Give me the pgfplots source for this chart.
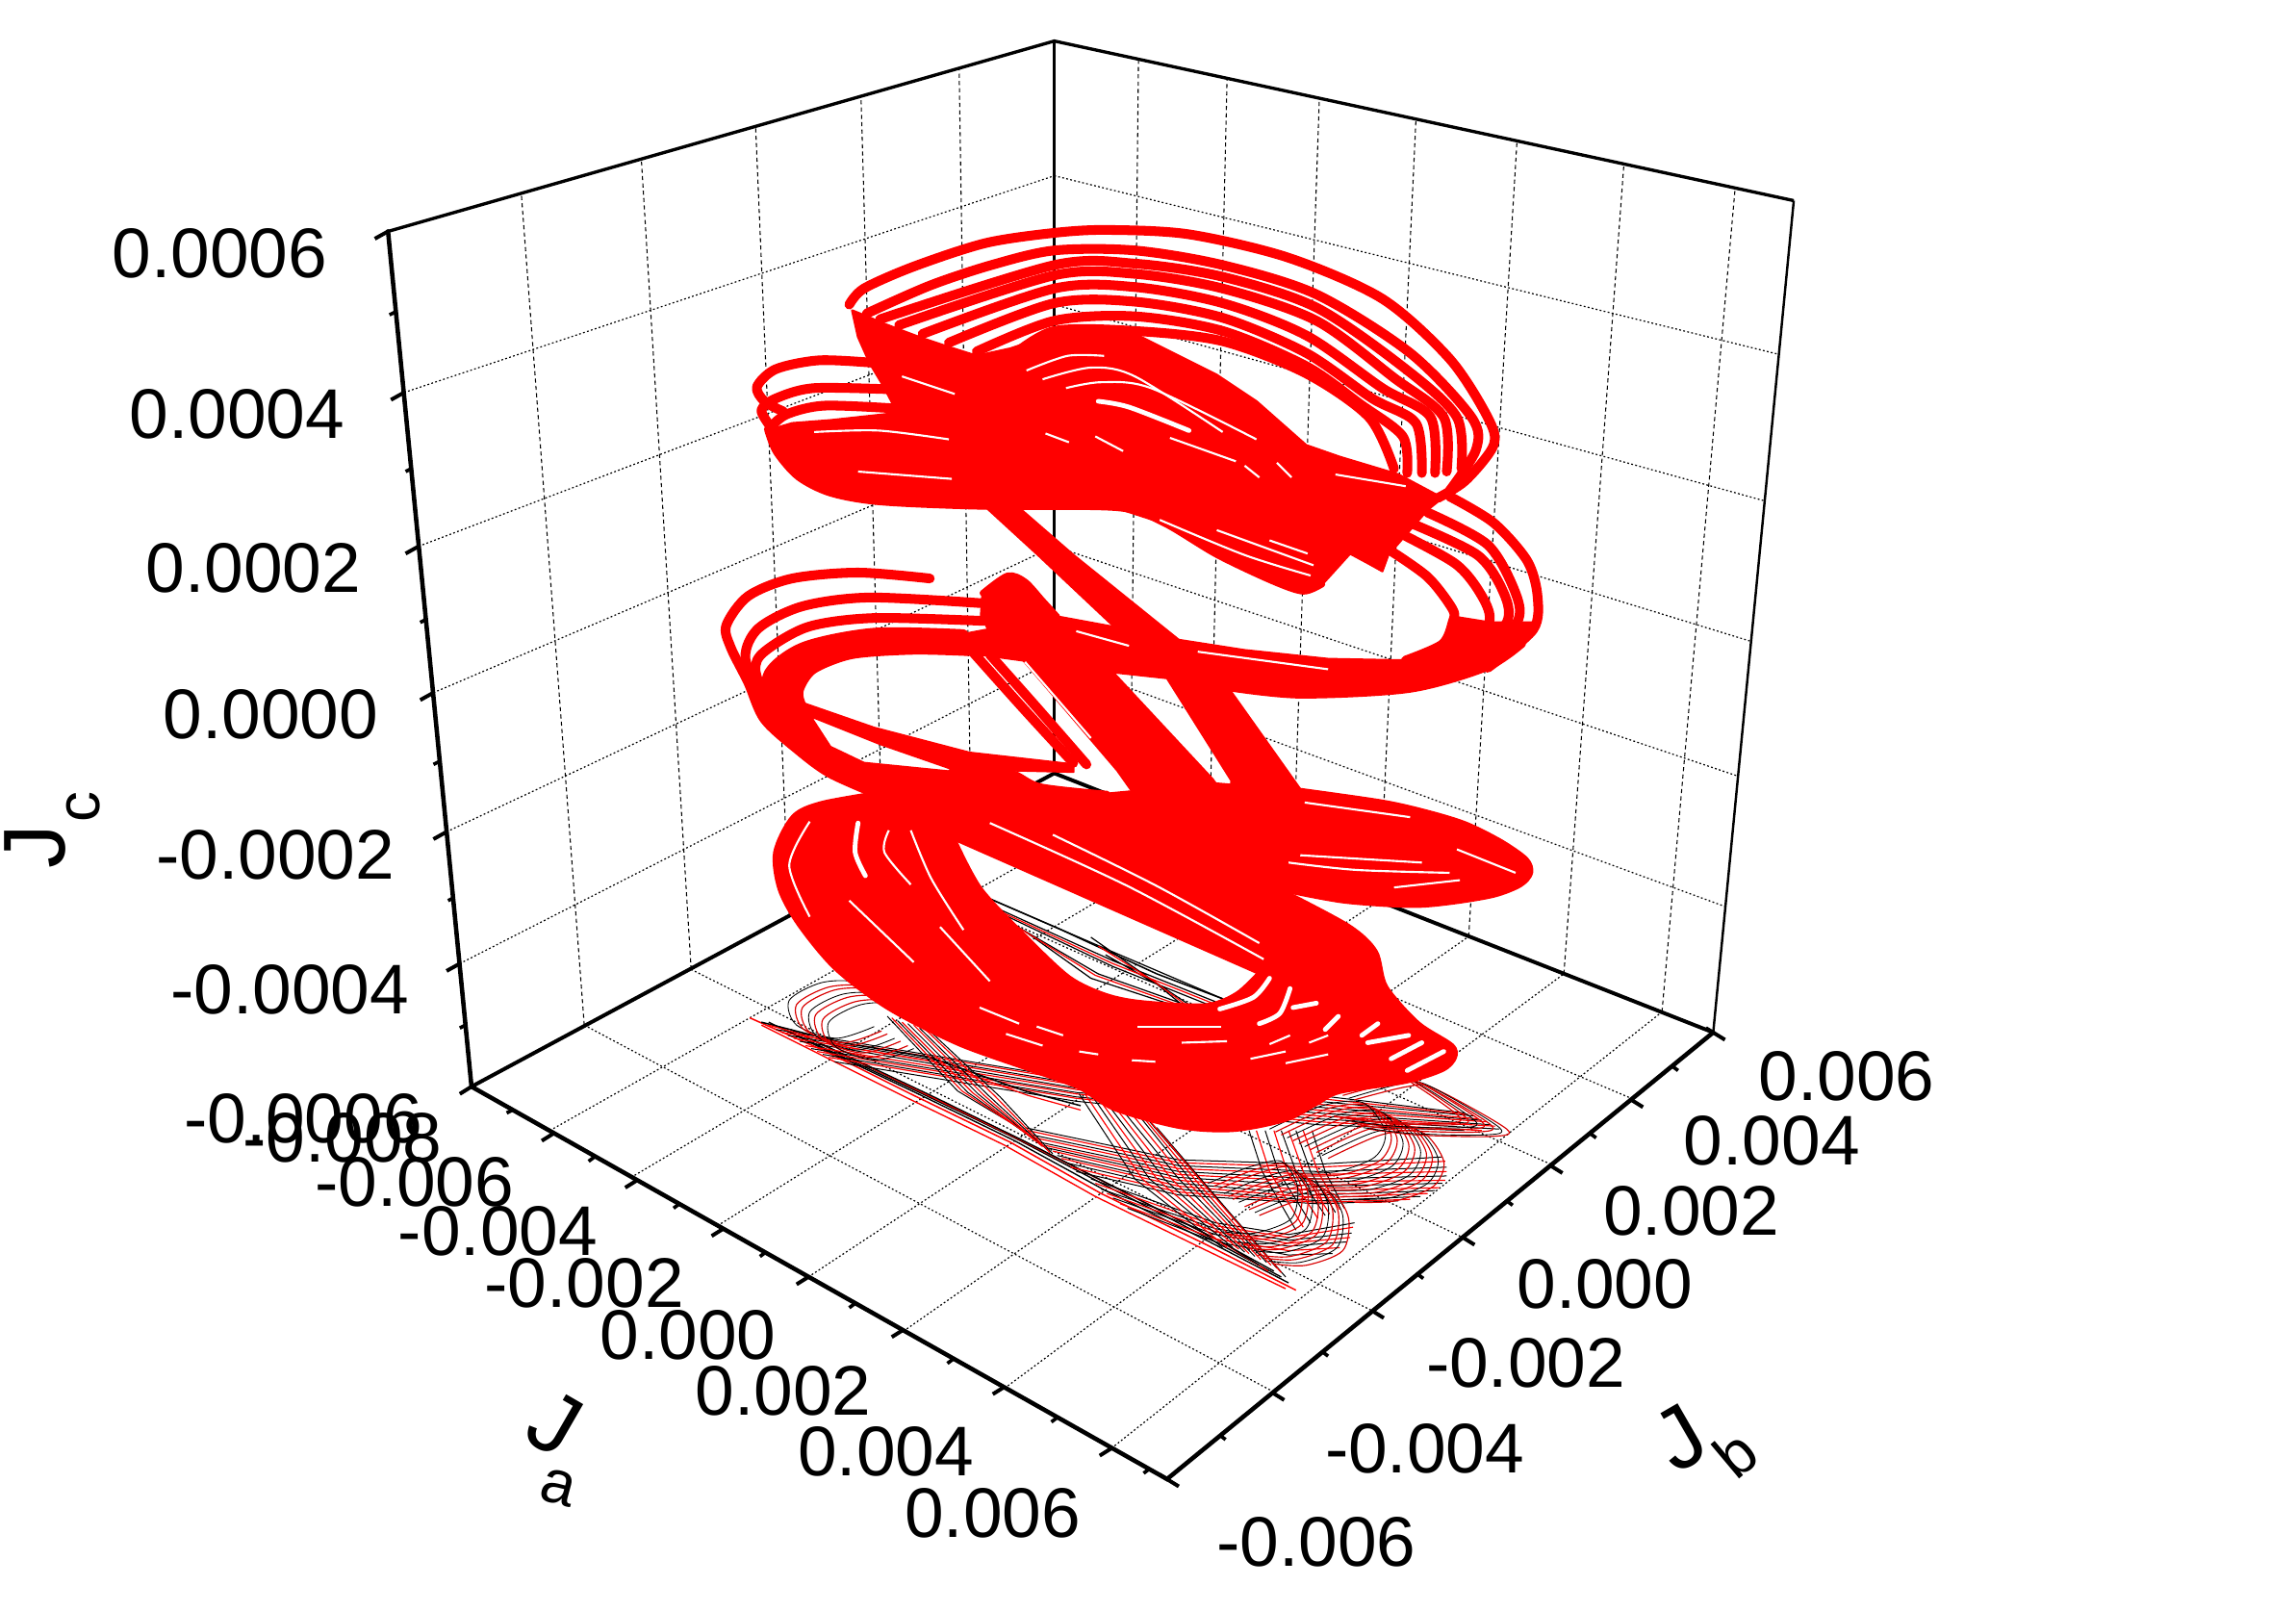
\documentclass[border=0pt]{standalone}
\usepackage{pgfplots}
\usepackage{fontspec}
\setmainfont{Liberation Sans}
\pgfplotsset{compat=1.18}
\newcommand{\lab}{\fontsize{24}{24}\selectfont}
\newcommand{\jj}{\fontsize{30}{30}\selectfont J}
\newcommand{\sub}{\fontsize{21}{21}\selectfont}
\pgfplotsset{
  griddash/.style={black,line width=.35pt,dash pattern=on 1.4pt off 1.1pt},
  griddot/.style={black,line width=.4pt,dash pattern=on .6pt off .8pt},
  fblack/.style={black,line width=.33pt},
  fred/.style={red,line width=.38pt},
  fredring/.style={red!85!black,line width=.38pt,smooth},
  fblackring/.style={black,line width=.28pt,smooth},
  strand/.style={red,line width=3.3pt,smooth,line cap=round,line join=round},
  edge/.style={red,line width=2pt,smooth,line cap=round,line join=round},
  mass/.style={draw=red,fill=red,line width=.8pt,line join=round},
  slit/.style={white,line width=.7pt,smooth},
  wide slit/.style={white,line width=1.6pt,smooth,line cap=round},
}
\begin{document}
\begin{tikzpicture}
\path[use as bounding box] (0,0) rectangle (784pt,550pt);
\begin{axis}[at={(0,0)},anchor=south west,scale only axis,width=784pt,height=550pt,
  xmin=0,xmax=1568,ymin=0,ymax=1100,y dir=reverse,hide axis,clip=false,unbounded coords=jump]

% floor grid
\addplot[griddot] coordinates {(375.5,772)(772,548.5) (nan,nan) (431,804)(826,570) (nan,nan) (490,837)(883,592) (nan,nan) (552,872)(942,615) (nan,nan) (617,909)(1003,639.5) (nan,nan) (686,948)(1068,665) (nan,nan) (759,989)(1135,691)};
\addplot[griddot] coordinates {(399,700)(869,950) (nan,nan) (472,662)(937,895) (nan,nan) (539,625)(999,845) (nan,nan) (603,591)(1059,795) (nan,nan) (663,558)(1114,750)};
% right wall
\addplot[griddash] coordinates {(772,548.5)(777.5,40) (nan,nan) (826,570)(838,53) (nan,nan) (883,592)(901,67) (nan,nan) (942,615)(967,81) (nan,nan) (1003,639.5)(1036,96) (nan,nan) (1068,665)(1109,112) (nan,nan) (1135,691)(1185,128)};
\addplot[griddot] coordinates {(720,120)(1215,242) (nan,nan) (720,208)(1205,342) (nan,nan) (720,292)(1196,438) (nan,nan) (720,373)(1187,530) (nan,nan) (720,451)(1178,619)};
% left wall
\addplot[griddash] coordinates {(399,700)(356,132) (nan,nan) (472,662)(438,109) (nan,nan) (539,625)(516,86) (nan,nan) (603,591)(588,66) (nan,nan) (663,558)(655,47)};
\addplot[griddot] coordinates {(276,268)(720,120) (nan,nan) (286,373)(720,208) (nan,nan) (296,473)(720,292) (nan,nan) (305,568)(720,373) (nan,nan) (314,658)(720,451)};

% box, back edges
\addplot[black,line width=1.3pt] coordinates {(322,742)(720,528)(1170,705)};
\addplot[black,line width=.8pt] coordinates {(720,528)(720,28)};
\addplot[black,line width=.8pt] coordinates {(1170,705)(1225,137)};
\addplot[black,line width=1.1pt] coordinates {(265,158)(720,28)(1225,137)};

% projection on the floor: long lower edge
\addplot[fred,line width=.5pt] coordinates {(512,695)(564,718)(622,747)(690,780)(752,815)(824,850)(885,881)};
\addplot[fblack,line width=.45pt] coordinates {(525,698)(570,720)(625,746)(693,779)(755,813)(826,848)(880,876)};
\addplot[fblack,line width=.45pt] coordinates {(540,703)(575,720)(630,746)(697,778)(760,810)(830,846)(870,868)};
\addplot[fred,line width=.45pt] coordinates {(520,700)(560,720)(618,749)(686,782)(748,817)(820,852)(878,880)};
\addplot[fblack,line width=.45pt] coordinates {(532,701)(572,720)(628,746)(695,778)(758,811)(828,847)(875,872)};
\addplot[fred,line width=.4pt] coordinates {(548,707)(580,722)(634,748)(700,780)(764,812)(834,848)(866,868)};
\addplot[fblack,line width=.4pt] coordinates {(555,710)(585,724)(640,750)(705,782)(770,815)(838,850)(860,864)};
% horizontal families
\addplot[fblack] coordinates {(530,703)(735,737)(900,748)(1000,760) (nan,nan) (538,707)(735,740)(900,752)(1006,762) (nan,nan) (546,711)(735,743)(900,756)(1012,765) (nan,nan) (554,716)(735,746)(900,760)(1018,768) (nan,nan) (562,720)(735,749)(900,764)(1024,771) (nan,nan) (570,725)(735,752)(900,768)(1000,772)};
\addplot[fred] coordinates {(534,705)(735,738)(900,750)(1003,761) (nan,nan) (542,709)(735,741)(900,754)(1009,764) (nan,nan) (550,714)(735,744)(900,758)(1015,766) (nan,nan) (558,718)(735,747)(900,762)(1021,769) (nan,nan) (566,722)(735,750)(900,766)(1012,772)};
\addplot[fblack] coordinates {(700,770)(805,792)(900,795)(985,790) (nan,nan) (705,775)(805,796)(900,800)(988,797) (nan,nan) (710,780)(805,800)(900,805)(988,803) (nan,nan) (716,784)(805,804)(900,810)(985,808) (nan,nan) (722,789)(805,808)(900,816)(980,813) (nan,nan) (728,794)(805,812)(900,820)(970,817) (nan,nan) (735,800)(805,816)(900,822)(955,820)};
\addplot[fred] coordinates {(702,772)(805,794)(900,797)(987,793) (nan,nan) (707,777)(805,798)(900,802)(988,800) (nan,nan) (713,782)(805,802)(900,807)(987,806) (nan,nan) (719,786)(805,806)(900,813)(983,811) (nan,nan) (725,791)(805,810)(900,818)(975,815) (nan,nan) (731,797)(805,814)(900,821)(963,819)};
\addplot[fblack] coordinates {(745,805)(830,835)(880,843)(925,835) (nan,nan) (752,812)(830,839)(880,847)(923,842) (nan,nan) (760,818)(830,843)(880,851)(920,848) (nan,nan) (770,825)(830,848)(880,857)(910,856)};
\addplot[fred] coordinates {(748,808)(830,837)(880,845)(924,838) (nan,nan) (756,815)(830,841)(880,849)(922,845) (nan,nan) (765,822)(830,846)(880,854)(915,852)};
% upper dense band under the coil
\addplot[fblack,line width=.5pt] coordinates {(672,612)(725,635)(790,665)(835,682)};
\addplot[fblack,line width=.5pt] coordinates {(520,698)(575,712)(635,722)(700,745)(738,755)};
\addplot[fred,line width=.4pt] coordinates {(525,700)(578,715)(638,725)(702,748)(738,758)};
% diagonal families
\addplot[fblack] coordinates {(606,694)(654,745)(701,773) (nan,nan) (613,697)(661,746)(705,777) (nan,nan) (620,699)(668,747)(710,781) (nan,nan) (628,702)(675,748)(715,785) (nan,nan) (636,705)(683,749)(719,788)};
\addplot[fred] coordinates {(609,695)(657,745)(703,775) (nan,nan) (616,698)(664,746)(707,779) (nan,nan) (624,700)(671,747)(712,783) (nan,nan) (632,703)(679,748)(717,787)};
\addplot[fblack] coordinates {(737,747)(775,805)(835,852) (nan,nan) (745,747)(785,805)(842,852) (nan,nan) (752,748)(795,805)(850,855) (nan,nan) (760,750)(805,805)(857,858) (nan,nan) (770,752)(815,808)(865,862) (nan,nan) (780,760)(825,812)(872,866) (nan,nan) (790,770)(838,826)(878,872)};
\addplot[fred] coordinates {(741,747)(780,805)(838,852) (nan,nan) (748,747)(790,805)(846,853) (nan,nan) (756,749)(800,805)(853,856) (nan,nan) (765,751)(810,806)(861,860) (nan,nan) (775,756)(820,810)(868,864) (nan,nan) (785,765)(831,819)(875,869)};
\addplot[fblack] coordinates {(853,772)(862,800)(885,840) (nan,nan) (864,772)(873,800)(895,835) (nan,nan) (875,772)(885,800)(905,830) (nan,nan) (885,772)(895,800)(912,828) (nan,nan) (896,772)(905,800)(918,825)};
\addplot[fred] coordinates {(858,772)(867,800)(890,838) (nan,nan) (870,772)(879,800)(900,832) (nan,nan) (880,772)(890,800)(908,829) (nan,nan) (890,772)(900,800)(915,826)};
% strands seen through the hole of the lower coil
\addplot[fblack,line width=.4pt] coordinates {(672,612)(760,650)(835,682) (nan,nan) (680,622)(760,660)(825,686) (nan,nan) (700,636)(745,668)(806,688) (nan,nan) (745,640)(785,668)(818,690) (nan,nan) (676,618)(760,656)(830,684) (nan,nan) (690,630)(750,665)(815,688) (nan,nan) (755,652)(790,672)(812,690)};
\addplot[fred,line width=.4pt] coordinates {(678,620)(760,658)(828,685) (nan,nan) (695,633)(748,666)(810,688) (nan,nan) (750,646)(788,670)(815,690)};
% rings, lobe 4
\addplot[fredring] coordinates {(860,830)(888,819)(910,815)(921,832)(917,854)(892,864)(870,863)};
\addplot[fblackring] coordinates {(857,828)(884,817)(906,813)(917,830)(913,852)(888,862)(866,861)};
\addplot[fredring] coordinates {(853,826)(881,815)(903,811)(914,828)(910,850)(885,860)(863,859)};
\addplot[fredring] coordinates {(850,824)(877,813)(899,809)(910,826)(906,848)(881,858)(859,857)};
\addplot[fblackring] coordinates {(846,821)(874,810)(896,806)(907,823)(903,845)(878,855)(856,854)};
\addplot[fredring] coordinates {(842,819)(870,808)(892,804)(903,821)(899,843)(874,853)(852,852)};
\addplot[fredring] coordinates {(839,817)(867,806)(889,802)(900,819)(896,841)(871,851)(849,850)};
\addplot[fblackring] coordinates {(836,815)(863,804)(885,800)(896,817)(892,839)(867,849)(845,848)};
\addplot[fredring] coordinates {(832,812)(860,801)(882,797)(893,814)(889,836)(864,846)(842,845)};
\addplot[fredring] coordinates {(829,810)(856,799)(878,795)(889,812)(885,834)(860,844)(838,843)};
\addplot[fblackring] coordinates {(825,808)(853,797)(875,793)(886,810)(882,832)(857,842)(835,841)};
% rings, lobe 3
\addplot[fredring] coordinates {(907,791)(943,775)(971,773)(986,793)(979,810)(953,820)(925,821)};
\addplot[fblackring] coordinates {(903,789)(939,773)(967,771)(982,791)(975,808)(949,818)(921,819)};
\addplot[fredring] coordinates {(899,787)(935,771)(963,769)(978,789)(971,806)(945,816)(917,817)};
\addplot[fredring] coordinates {(895,785)(931,769)(959,767)(974,787)(967,804)(941,814)(913,815)};
\addplot[fblackring] coordinates {(891,783)(927,767)(955,765)(970,785)(963,802)(937,812)(909,813)};
\addplot[fredring] coordinates {(887,781)(923,765)(951,763)(966,783)(959,800)(933,810)(905,811)};
\addplot[fredring] coordinates {(883,779)(919,763)(947,761)(962,781)(955,798)(929,808)(901,809)};
\addplot[fblackring] coordinates {(879,777)(915,761)(943,759)(958,779)(951,796)(925,806)(897,807)};
\addplot[fredring] coordinates {(875,775)(911,759)(939,757)(954,777)(947,794)(921,804)(893,805)};
\addplot[fredring] coordinates {(871,773)(907,757)(935,755)(950,775)(943,792)(917,802)(889,803)};
\addplot[fblackring] coordinates {(867,771)(903,755)(931,753)(946,773)(939,790)(913,800)(885,801)};
% rings, lobe 2
\addplot[fredring] coordinates {(925,751)(961,742)(979,743)(1029,771)(1018,776)(968,775)(935,771)};
\addplot[fblackring] coordinates {(921,750)(957,740)(975,741)(1024,770)(1013,775)(964,774)(931,770)};
\addplot[fredring] coordinates {(917,748)(953,739)(971,740)(1018,768)(1008,773)(960,772)(927,768)};
\addplot[fredring] coordinates {(913,746)(949,737)(967,738)(1012,766)(1003,771)(956,770)(923,766)};
\addplot[fblackring] coordinates {(909,745)(945,736)(963,737)(1007,765)(998,770)(952,769)(919,765)};
\addplot[fredring] coordinates {(905,743)(941,734)(959,735)(1001,763)(993,768)(948,767)(915,763)};
\addplot[fredring] coordinates {(901,742)(937,733)(955,734)(996,762)(988,767)(944,766)(911,762)};
% rings, lobe 1
\addplot[fblackring] coordinates {(607,686)(586,671)(561,671)(539,683)(544,700)(571,709)(597,701)};
\addplot[fredring] coordinates {(612,689)(591,674)(566,674)(544,686)(549,703)(576,712)(602,704)};
\addplot[fredring] coordinates {(616,691)(595,676)(570,676)(548,688)(553,705)(580,714)(606,706)};
\addplot[fblackring] coordinates {(621,694)(600,679)(575,679)(553,691)(558,708)(585,717)(611,709)};
\addplot[fredring] coordinates {(625,696)(604,681)(579,681)(557,693)(562,710)(589,719)(615,711)};
\addplot[fredring] coordinates {(630,699)(609,684)(584,684)(562,696)(567,713)(594,722)(620,714)};
\addplot[fblackring] coordinates {(634,701)(613,686)(588,686)(566,698)(571,715)(598,724)(624,716)};

% attractor: solid parts
\addplot[mass] coordinates {(582,212)(592,216)(601,220)(614,225)(630,231)(648,237)(667,243)(690,238)(720,228)(775,228)(831,256)(858,274)(892,304)(915,312)(955,324)(985,340)(975,348)(948,379)(944,390)(935,385)(922,378)(903,399)(890,404)(869,397)(831,379)(794,357)(763,347)(669,346)(601,343)(567,337)(545,326)(530,309)(524,294)(541,289)(567,287)(613,282)(603,263)(594,248)(586,230)} --cycle;
\addplot[mass] coordinates {(673,346)(695,346)(733,379)(805,437)(839,470)(888,539)(895,560)(840,555)(841,533)(797,463)(760,427)(709,379)} --cycle;
\addplot[mass] coordinates {(688,393)(700,397)(712,410)(722,421)(735,440)(760,459)(828,532)(845,555)(780,550)(763,526)(699,451)(680,440)(670,420)(671,405)} --cycle;
\addplot[mass] coordinates {(524,462)(548,442)(597,432)(658,433)(722,421)(760,428)(805,437)(850,444)(907,450)(960,451)(978,447)(992,434)(992,421)(1017,425)(1048,425)(1040,440)(1016,456)(963,471)(888,475)(839,470)(797,463)(760,459)(699,451)(662,446)(624,445)(582,448)(556,458)(547,471)(548,480)(554,490)(567,510)(590,521)(650,527)(650,545)(601,543)(567,528)(545,512)(522,491)(511,466)} --cycle;
\addplot[mass] coordinates {(548,480)(597,497)(662,514)(733,522)(733,527)(650,525)(601,508)(556,490)} --cycle;
\addplot[mass] coordinates {(601,543)(650,526)(665,522)(692,528)(711,537)(756,542)(830,535)(888,540)(944,548)(975,555)(1001,563)(1025,575)(1042,587)(1045,596)(1038,604)(1020,611)(990,616)(963,618)(918,615)(880,608)(900,640)(870,660)(860,665)(651,573)(649,555)} --cycle;
\addplot[mass] coordinates {(600,542)(561,549)(542,558)(530,582)(533,607)(546,631)(571,661)(607,688)(654,712)(701,729)(737,740)(762,758)(806,769)(842,771)(878,764)(899,753)(915,745)(960,738)(985,730)(993,722)(991,714)(968,699)(946,674)(939,650)(921,633)(878,610)(865,658)(860,665)(845,679)(824,687)(780,685)(755,680)(730,668)(700,640)(669,607)(651,573)(649,555)(640,545)} --cycle;
% rounded outlines of the solid parts
\addplot[edge] coordinates {(600,542)(561,549)(542,558)(530,582)(533,607)(546,631)(571,661)(607,688)(654,712)(701,729)(737,742)(762,757)(806,769)(842,771)(878,764)(899,753)(915,745)(960,738)(985,730)(993,722)(991,714)(968,699)(946,674)(939,650)(921,633)(878,610)};
\addplot[edge] coordinates {(888,540)(944,548)(975,555)(1001,563)(1025,575)(1042,587)(1045,596)(1038,604)(1020,611)(990,616)(963,618)(918,615)(880,608)};
\addplot[edge] coordinates {(524,294)(530,309)(545,326)(567,337)(601,343)(669,346)(763,347)(794,357)(831,379)(869,397)(890,404)(903,399)};
\addplot[edge] coordinates {(1040,440)(1016,456)(963,471)(888,475)(839,470)};
\addplot[edge] coordinates {(662,446)(624,445)(582,448)(556,458)(547,471)(548,480)(554,490)};
\addplot[edge] coordinates {(651,573)(669,607)(700,640)(730,668)(755,680)(780,685)(824,687)(845,679)(860,665)};
\addplot[edge] coordinates {(650,526)(665,522)(692,528)(711,537)(756,542)};
\addplot[edge] coordinates {(671,405)(688,393)(700,397)(712,410)(722,421)};

% attractor: upper coil
\addplot[strand] coordinates {(580,208)(590,197)(624,182)(673,166)(720,159)(756,157)(812,160)(880,176)(944,204)(990,245)(1016,285)(1020,304)(1001,328)(982,340)};
\addplot[strand] coordinates {(592,214)(635,195)(677,181)(720,171)(775,171)(835,181)(899,201)(963,241)(1005,285)(1008,307)(990,335)};
\addplot[strand] coordinates {(601,218)(720,181)(775,180)(835,189)(899,210)(960,252)(995,285)(998,320)};
\addplot[strand] coordinates {(614,222)(720,188)(775,187)(835,197)(899,219)(952,258)(986,285)(988,322)};
\addplot[strand] coordinates {(630,228)(720,197)(775,196)(835,207)(892,229)(944,265)(977,285)(980,323)};
\addplot[strand] coordinates {(648,234)(720,207)(775,206)(835,217)(892,241)(937,272)(967,289)(971,323)};
\addplot[strand] coordinates {(667,240)(720,219)(775,216)(835,226)(892,250)(929,276)(958,298)(961,323)};
\addplot[strand] coordinates {(690,244)(720,226)(775,226)(835,233)(892,255)(935,285)(952,320)};
% left lobe of the upper coil
\addplot[strand] coordinates {(600,248)(560,246)(530,252)(517,264)(522,274)(535,281)};
\addplot[strand] coordinates {(613,266)(556,265)(530,272)(520,280)(526,291)};
\addplot[strand] coordinates {(613,279)(563,277)(537,283)(525,293)};
% right lobe
\addplot[strand] coordinates {(990,339)(1020,357)(1043,383)(1050,407)(1047,430)(1016,456)};
\addplot[strand] coordinates {(975,350)(1016,372)(1035,405)(1036,425)(1010,452)};
\addplot[strand] coordinates {(963,357)(1009,379)(1027,405)(1029,425)(1005,450)};
\addplot[strand] coordinates {(952,362)(994,385)(1012,407)(1017,425)(1000,447)};
\addplot[strand] coordinates {(948,375)(975,394)(992,416)(992,425)(985,440)(960,451)};
% left lobe, middle
\addplot[strand] coordinates {(635,395)(586,391)(541,395)(511,407)(496,427)(499,442)(511,466)(522,491)(545,512)(567,528)(601,543)};
\addplot[strand] coordinates {(672,412)(594,408)(548,414)(518,429)(509,449)(520,478)};
\addplot[strand] coordinates {(672,424)(597,422)(552,428)(522,445)(516,458)(525,485)};
\addplot[strand] coordinates {(658,433)(597,432)(548,442)(524,462)(535,490)};
% thin diagonal strands
\addplot[strand] coordinates {(665,446)(699,484)(733,521)};
\addplot[strand] coordinates {(676,447)(708,483)(742,522)};

% gaps left inside the solid parts
\addplot[slit] coordinates {(701,253)(729,243)(754,243)};
\addplot[slit] coordinates {(712,259)(745,251)(775,257)(835,295)};
\addplot[slit] coordinates {(728,265)(752,261)(786,265)(858,300)};
\addplot[wide slit] coordinates {(750,274)(771,278)(812,294)};
\addplot[slit] coordinates {(799,299)(844,315)};
\addplot[slit] coordinates {(556,295)(600,294)(648,300)};
\addplot[slit] coordinates {(586,322)(650,327)};
\addplot[slit] coordinates {(912,324)(960,332)};
\addplot[slit] coordinates {(616,257)(652,269)};
\addplot[slit] coordinates {(792,355)(850,379)(895,393)};
\addplot[slit] coordinates {(831,362)(897,386)};
\addplot[slit] coordinates {(867,369)(893,378)};
\addplot[slit] coordinates {(714,296)(730,302) (nan,nan) (748,298)(767,308) (nan,nan) (850,318)(860,326) (nan,nan) (872,316)(882,326)};
\addplot[slit] coordinates {(735,431)(771,441)};
\addplot[slit] coordinates {(818,445)(907,457)};
\addplot[slit] coordinates {(700,452)(745,504)};
\addplot[slit] coordinates {(891,548)(963,558)};
\addplot[slit] coordinates {(888,584)(971,589)};
\addplot[slit] coordinates {(880,589)(926,594)(990,596)};
\addplot[slit] coordinates {(952,606)(997,601)};
\addplot[slit] coordinates {(995,580)(1035,596)};
\addplot[slit] coordinates {(676,562)(770,605)(863,655)};
\addplot[slit] coordinates {(719,570)(790,605)(860,644)};
\addplot[wide slit] coordinates {(586,562)(584,582)(591,598)};
\addplot[slit] coordinates {(607,567)(604,582)(622,604)};
\addplot[slit] coordinates {(622,567)(636,600)(658,635)};
\addplot[slit] coordinates {(553,561)(539,591)(553,626)};
\addplot[slit] coordinates {(580,615)(624,657)};
\addplot[slit] coordinates {(642,633)(676,670)};
\addplot[wide slit] coordinates {(833,689)(856,681)(867,668)};
\addplot[wide slit] coordinates {(860,699)(874,692)(881,675)};
\addplot[wide slit] coordinates {(883,688)(899,685)};
\addplot[wide slit] coordinates {(905,703)(914,694)};
\addplot[wide slit] coordinates {(930,707)(941,699)};
\addplot[wide slit] coordinates {(934,712)(962,707)};
\addplot[wide slit] coordinates {(950,723)(971,712)};
\addplot[wide slit] coordinates {(961,731)(986,718)};
\addplot[slit] coordinates {(854,723)(878,718)};
\addplot[slit] coordinates {(878,726)(907,720)};
\addplot[slit] coordinates {(894,712)(907,707)};
\addplot[slit] coordinates {(867,713)(881,707)};
\addplot[slit] coordinates {(807,712)(838,711)};
\addplot[slit] coordinates {(777,701)(834,701)};
\addplot[slit] coordinates {(687,706)(712,714)};
\addplot[slit] coordinates {(737,718)(750,720)};
\addplot[slit] coordinates {(773,724)(789,725)};
\addplot[slit] coordinates {(708,701)(726,707)};
\addplot[slit] coordinates {(669,688)(696,699)};

% box, front edges and ticks
\addplot[black,line width=1.5pt,line cap=round] coordinates {(265,158)(322,742)(797,1010)(1170,705)};
\addplot[black,line width=1.3pt] coordinates {(322,742)(314,747) (nan,nan) (378,774)(370,779) (nan,nan) (435,806)(427,811) (nan,nan) (494,839)(486,844) (nan,nan) (552,872)(544,877) (nan,nan) (617,908)(609,913) (nan,nan) (686,947)(678,952) (nan,nan) (759,989)(751,994)};
\addplot[black,line width=1.2pt] coordinates {(350,758)(346,760) (nan,nan) (406,790)(402,793) (nan,nan) (464,822)(460,825) (nan,nan) (523,855)(519,858) (nan,nan) (584,890)(580,893) (nan,nan) (651,928)(647,931) (nan,nan) (722,968)(718,971) (nan,nan) (785,1003)(781,1006)};
\addplot[black,line width=1.3pt] coordinates {(792,1007)(805,1015) (nan,nan) (869,951)(877,956) (nan,nan) (937,895)(945,900) (nan,nan) (999,845)(1007,850) (nan,nan) (1059,796)(1067,801) (nan,nan) (1114,751)(1122,756) (nan,nan) (1165,702)(1178,710)};
\addplot[black,line width=1.2pt] coordinates {(833,980)(837,983) (nan,nan) (903,923)(907,926) (nan,nan) (968,870)(972,873) (nan,nan) (1029,820)(1033,823) (nan,nan) (1086,774)(1090,777) (nan,nan) (1142,728)(1146,731)};
\addplot[black,line width=1.3pt] coordinates {(265,158)(256,163) (nan,nan) (276,268)(267,273) (nan,nan) (286,373)(277,378) (nan,nan) (296,473)(287,478) (nan,nan) (305,568)(296,573) (nan,nan) (314,658)(305,663)};
\addplot[black,line width=1.2pt] coordinates {(270,213)(266,215) (nan,nan) (281,320)(277,322) (nan,nan) (291,423)(287,425) (nan,nan) (300,520)(296,522) (nan,nan) (310,613)(306,615) (nan,nan) (318,700)(314,702)};

% tick labels
\node[inner sep=0] at (axis cs:150,173) {\lab 0.0006};
\node[inner sep=0] at (axis cs:162,283) {\lab 0.0004};
\node[inner sep=0] at (axis cs:173,388) {\lab 0.0002};
\node[inner sep=0] at (axis cs:185,488) {\lab 0.0000};
\node[inner sep=0] at (axis cs:188,584) {\lab -0.0002};
\node[inner sep=0] at (axis cs:198,676) {\lab -0.0004};
\node[inner sep=0] at (axis cs:207,764) {\lab -0.0006};
\node[inner sep=0] at (axis cs:234,777) {\lab -0.008};
\node[inner sep=0] at (axis cs:283,807) {\lab -0.006};
\node[inner sep=0] at (axis cs:340,841) {\lab -0.004};
\node[inner sep=0] at (axis cs:399,876) {\lab -0.002};
\node[inner sep=0] at (axis cs:470,912) {\lab 0.000};
\node[inner sep=0] at (axis cs:535,950) {\lab 0.002};
\node[inner sep=0] at (axis cs:605,991) {\lab 0.004};
\node[inner sep=0] at (axis cs:678,1033) {\lab 0.006};
\node[inner sep=0] at (axis cs:1261,735) {\lab 0.006};
\node[inner sep=0] at (axis cs:1210,779) {\lab 0.004};
\node[inner sep=0] at (axis cs:1155,827) {\lab 0.002};
\node[inner sep=0] at (axis cs:1096,877) {\lab 0.000};
\node[inner sep=0] at (axis cs:1042,931) {\lab -0.002};
\node[inner sep=0] at (axis cs:973,989) {\lab -0.004};
\node[inner sep=0] at (axis cs:899,1053) {\lab -0.006};
% axis titles
\node[inner sep=0,rotate=-30] at (axis cs:379,972) {\jj};
\node[inner sep=0,rotate=-15] at (axis cs:381,1016) {\sub a};
\node[inner sep=0,rotate=30] at (axis cs:1147,982) {\jj};
\node[inner sep=0,rotate=40] at (axis cs:1185,993) {\sub b};
\node[inner sep=0,rotate=90] at (axis cs:24,578) {\jj};
\node[inner sep=0,rotate=90] at (axis cs:57,551) {\sub c};
\end{axis}
\end{tikzpicture}
\end{document}
